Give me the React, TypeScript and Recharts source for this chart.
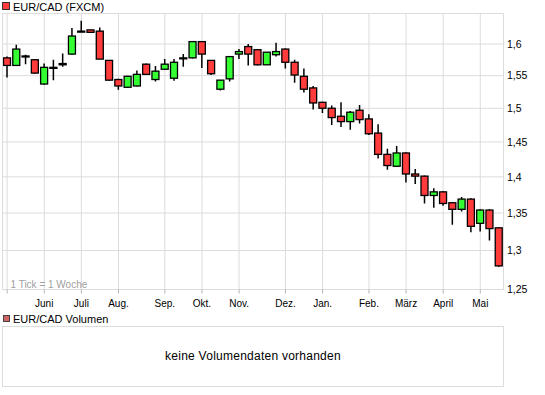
import { ComposedChart, Bar, XAxis, YAxis, CartesianGrid, ReferenceLine } from 'recharts';

// weekly EUR/CAD candles
const opens = [
  1.578, 1.566, 1.580, 1.575, 1.537, 1.563, 1.567, 1.584, 1.621, 1.623,
  1.621, 1.574, 1.544, 1.532, 1.534, 1.568, 1.544, 1.560, 1.546, 1.577,
  1.578, 1.604, 1.574, 1.529, 1.545, 1.584, 1.596, 1.591, 1.567, 1.583,
  1.592, 1.571, 1.549, 1.531, 1.509, 1.500, 1.488, 1.480, 1.497, 1.484,
  1.463, 1.432, 1.415, 1.434, 1.404, 1.401, 1.374, 1.379, 1.364, 1.355,
  1.369, 1.336, 1.354, 1.330,
];
const highs = [
  1.580, 1.599, 1.583, 1.575, 1.569, 1.575, 1.585, 1.626, 1.638, 1.623,
  1.627, 1.574, 1.545, 1.550, 1.558, 1.569, 1.565, 1.576, 1.576, 1.584,
  1.605, 1.605, 1.574, 1.543, 1.581, 1.592, 1.600, 1.591, 1.587, 1.602,
  1.593, 1.575, 1.561, 1.534, 1.510, 1.504, 1.509, 1.496, 1.505, 1.491,
  1.476, 1.440, 1.444, 1.435, 1.411, 1.402, 1.384, 1.380, 1.364, 1.372,
  1.370, 1.355, 1.355, 1.330,
];
const lows = [
  1.547, 1.566, 1.568, 1.553, 1.536, 1.543, 1.564, 1.583, 1.620, 1.619,
  1.576, 1.542, 1.528, 1.531, 1.533, 1.551, 1.541, 1.559, 1.542, 1.564,
  1.577, 1.562, 1.551, 1.527, 1.541, 1.576, 1.566, 1.566, 1.567, 1.580,
  1.561, 1.539, 1.524, 1.498, 1.493, 1.475, 1.472, 1.468, 1.477, 1.460,
  1.426, 1.410, 1.414, 1.392, 1.390, 1.363, 1.357, 1.360, 1.334, 1.352,
  1.324, 1.325, 1.313, 1.279,
];
const closes = [
  1.566, 1.592, 1.581, 1.554, 1.563, 1.562, 1.569, 1.613, 1.621, 1.619,
  1.576, 1.543, 1.534, 1.549, 1.552, 1.552, 1.557, 1.568, 1.571, 1.578,
  1.604, 1.584, 1.553, 1.543, 1.580, 1.588, 1.584, 1.567, 1.587, 1.588,
  1.571, 1.551, 1.529, 1.508, 1.500, 1.486, 1.480, 1.494, 1.483, 1.462,
  1.432, 1.416, 1.434, 1.404, 1.401, 1.374, 1.379, 1.363, 1.355, 1.369,
  1.332, 1.354, 1.329, 1.280,
];

// week index where each month starts
const monthTicks = [0, 4, 8, 12, 17, 21, 25, 30, 34, 39, 43, 47, 51];
const monthLabels = ['', 'Juni', 'Juli', 'Aug.', 'Sep.', 'Okt.', 'Nov.', 'Dez.', 'Jan.', 'Feb.', 'März', 'April', 'Mai'];
const priceTicks = [1.25, 1.3, 1.35, 1.4, 1.45, 1.5, 1.55, 1.6];

const RED = '#ff3b3b';
const GREEN = '#33ff33';
const GRID = '#dcdcdc';
const FONT = '"Liberation Sans", Arial, sans-serif';

const data = opens.map((open, i) => ({
  i,
  open,
  high: highs[i],
  low: lows[i],
  close: closes[i],
}));

// bar covers low..high, body is placed inside it on the same (log) scale
const Candle = (props: any) => {
  const { x, y, width, height, payload } = props;
  const { open, close, high, low } = payload;
  const top = Math.min(y, y + height);
  const h = Math.abs(height);
  const span = Math.log(high) - Math.log(low);
  const toY = (v: number) => (span > 0 ? top + ((Math.log(high) - Math.log(v)) / span) * h : top);
  const bTop = toY(Math.max(open, close));
  const bBot = toY(Math.min(open, close));
  const cx = x + width / 2;
  return (
    <g>
      <line x1={cx} x2={cx} y1={top} y2={top + h} stroke="#000" strokeWidth={1.5} />
      <rect
        x={x}
        y={bTop}
        width={width}
        height={Math.max(bBot - bTop, 1)}
        fill={close >= open ? GREEN : RED}
        stroke="#000"
        strokeWidth={1.3}
      />
    </g>
  );
};

export default function App() {
  return (
    <div style={{ position: 'fixed', left: 0, top: 0, width: 545, height: 395, background: '#fff', fontFamily: FONT }}>
      <svg width={545} height={395} style={{ position: 'absolute', left: 0, top: 0 }}>
        <rect x={2.5} y={2.5} width={7} height={7} fill={RED} stroke="#333" />
        <text x={13} y={10.5} fontSize={11} fontFamily={FONT} fill="#000">EUR/CAD (FXCM)</text>

        <rect x={3.5} y={315.5} width={6} height={6} fill="#d06464" stroke="#444" />
        <text x={13} y={323} fontSize={11} fontFamily={FONT} fill="#000">EUR/CAD Volumen</text>

        <rect x={2.5} y={326.5} width={501} height={60} fill="none" stroke={GRID} />
        <text x={253} y={360} fontSize={12} letterSpacing={0.25} fontFamily={FONT} fill="#000" textAnchor="middle">
          keine Volumendaten vorhanden
        </text>
      </svg>

      <div style={{ position: 'absolute', left: 0, top: 0 }}>
        <ComposedChart width={545} height={310} data={data} margin={{ top: 13.5, right: 0, bottom: 0, left: 2.5 }}>
          <CartesianGrid stroke={GRID} />
          <XAxis
            dataKey="i"
            type="number"
            domain={[-0.5, 53.5]}
            allowDataOverflow
            ticks={monthTicks}
            interval={0}
            tickFormatter={(v: number) => monthLabels[monthTicks.indexOf(v)] ?? ''}
            height={20.5}
            axisLine={{ stroke: GRID }}
            tickLine={{ stroke: '#b4b4b4' }}
            tickSize={4}
            tickMargin={6}
            tick={{ fontSize: 10, fill: '#000', fontFamily: FONT }}
          />
          <YAxis
            orientation="right"
            scale="log"
            domain={[1.25, 1.65]}
            allowDataOverflow
            ticks={priceTicks}
            interval={0}
            width={41.5}
            axisLine={false}
            tickLine={false}
            tickSize={0}
            tickMargin={3.5}
            tickFormatter={(v: number) => String(v).replace('.', ',')}
            tick={{ fontSize: 10.5, fill: '#000', fontFamily: FONT, textAnchor: 'start' }}
          />
          <ReferenceLine x={-0.5} stroke={GRID} />
          <ReferenceLine x={53.5} stroke={GRID} />
          <ReferenceLine y={1.65} stroke={GRID} />
          <Bar
            dataKey={(d: any) => [d.low, d.high]}
            barSize={7}
            shape={<Candle />}
            isAnimationActive={false}
          />
        </ComposedChart>
      </div>

      <div
        style={{
          position: 'absolute',
          left: 10.5,
          top: 280,
          fontSize: 10,
          lineHeight: '10px',
          color: '#a0a0a0',
          fontFamily: FONT,
        }}
      >
        1 Tick = 1 Woche
      </div>
    </div>
  );
}
